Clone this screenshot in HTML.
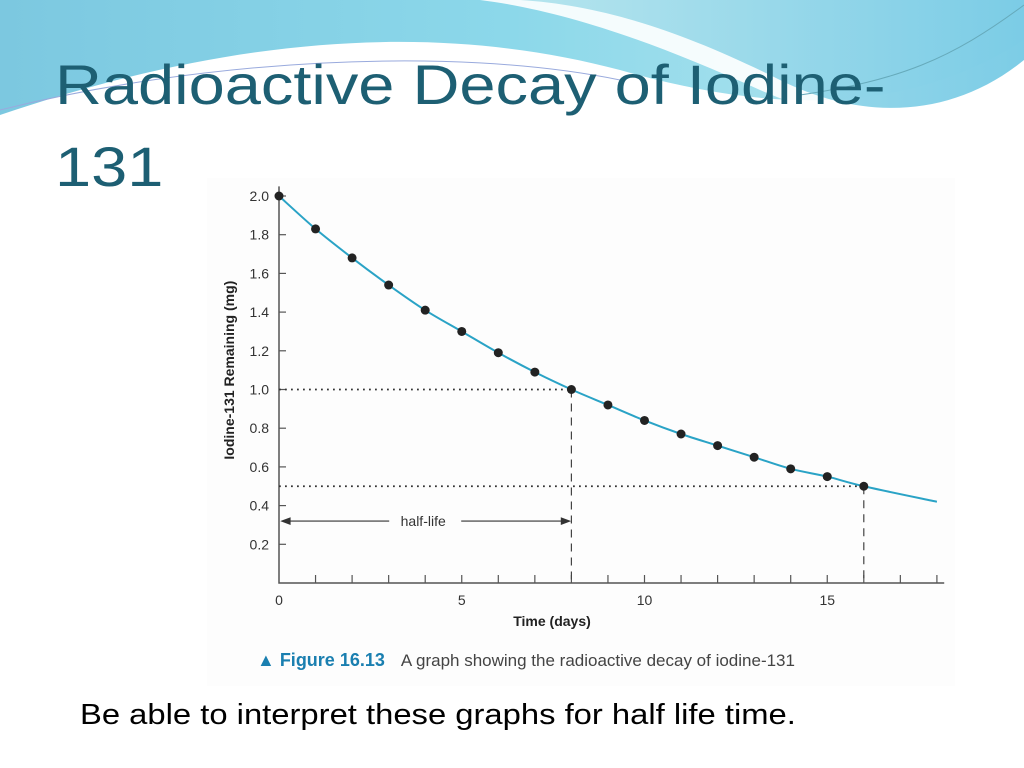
<!DOCTYPE html>
<html><head><meta charset="utf-8"><style>
html,body{margin:0;padding:0;width:1024px;height:768px;overflow:hidden;background:#fff;font-family:"Liberation Sans",sans-serif}
#title{position:absolute;left:55px;top:44px;font-size:56px;line-height:82px;color:#1d5f73;font-family:"Liberation Sans",sans-serif;width:800px;transform:scaleX(1.16);transform-origin:0 0;white-space:nowrap}
#sub{position:absolute;left:80px;top:699px;font-size:29px;color:#000;transform:scaleX(1.13);transform-origin:0 0;white-space:nowrap}
</style></head><body>
<svg width="1024" height="768" style="position:absolute;left:0;top:0">
<defs>
<linearGradient id="g1" x1="0" y1="0" x2="1" y2="0"><stop offset="0" stop-color="#7cc8e0"/><stop offset="0.5" stop-color="#8cd8ea"/><stop offset="1" stop-color="#b8e6ee"/></linearGradient>
<linearGradient id="g2" x1="0" y1="0" x2="1" y2="0"><stop offset="0" stop-color="#a6dfea"/><stop offset="1" stop-color="#5cc0e0"/></linearGradient>
</defs>
<path d="M0 0 H1024 V40 C900 120 760 110 620 70 C450 25 250 30 0 115 Z" fill="url(#g1)"/>
<path d="M480 0 H1024 V70 C940 130 850 130 760 90 C650 40 560 10 480 0 Z" fill="#fff" opacity="0.9"/>
<path d="M520 0 H1024 V60 C950 120 860 120 780 80 C680 30 600 5 520 0 Z" fill="url(#g2)" opacity="0.8"/>
<path d="M0 110 C200 60 450 45 620 80" stroke="#9ad" stroke-width="1" fill="none"/>
<path d="M1024 5 C950 60 900 80 800 95" stroke="#6ab" stroke-width="1" fill="none"/>
<rect x="207" y="178" width="748" height="508" fill="#fdfdfd"/>
</svg>
<div id="title">Radioactive Decay of Iodine-<br>131</div>
<svg id="chart" width="1024" height="768" style="position:absolute;left:0;top:0"></svg>
<div id="sub">Be able to interpret these graphs for half life time.</div>
<script>
const days=[0,1,2,3,4,5,6,7,8,9,10,11,12,13,14,15,16];
const mg=[2.00,1.83,1.68,1.54,1.41,1.30,1.19,1.09,1.00,0.92,0.84,0.77,0.71,0.65,0.59,0.55,0.50];
const curveEnd=[18,0.42];
const yTicks=[0.2,0.4,0.6,0.8,1.0,1.2,1.4,1.6,1.8,2.0];
const xLabels=[0,5,10,15];
const halfLives=[8,16];
const NS='http://www.w3.org/2000/svg';
const svg=document.getElementById('chart');
const X=d=>279+d*36.55, Y=v=>583-v*193.5;
function mk(t,a){const e=document.createElementNS(NS,t);for(const k in a)e.setAttribute(k,a[k]);svg.appendChild(e);return e;}
const ax=mk('path',{d:`M${X(0)} ${Y(2.05)} V${Y(0)} H${X(18.2)}`,stroke:'#555','stroke-width':1.5,fill:'none'});


yTicks.forEach(v=>{
 const t=mk('line',{x1:X(0),x2:X(0)+7,y1:Y(v),y2:Y(v),stroke:'#555','stroke-width':1.2});
 
 
 const l=mk('text',{x:X(0)-10,y:Y(v)+5,'text-anchor':'end','font-size':14,fill:'#333'});l.textContent=v.toFixed(1);
 
 
});
for(let d=1;d<=18;d++){
 const t=mk('line',{x1:X(d),x2:X(d),y1:Y(0),y2:Y(0)-8,stroke:'#555','stroke-width':1.2});
 
 
}
xLabels.forEach(d=>{
 const l=mk('text',{x:X(d),y:Y(0)+22,'text-anchor':'middle','font-size':14,fill:'#333'});l.textContent=d;
 
 
});
const xt=mk('text',{x:552,y:626,'text-anchor':'middle','font-size':14,'font-weight':'bold',fill:'#222'});xt.textContent='Time (days)';


const yt=mk('text',{x:0,y:0,transform:`translate(234 ${Y(1.1)}) rotate(-90)`,'text-anchor':'middle','font-size':14,'font-weight':'bold',fill:'#222'});yt.textContent='Iodine-131 Remaining (mg)';


halfLives.forEach((d,i)=>{
 const v=mg[days.indexOf(d)];
 const h=mk('line',{x1:X(0),x2:X(d),y1:Y(v),y2:Y(v),stroke:'#333','stroke-width':1.8,'stroke-dasharray':'1.8 4.2'});
 
 
 const vl=mk('line',{x1:X(d),x2:X(d),y1:Y(v),y2:Y(0),stroke:'#444','stroke-width':1.2,'stroke-dasharray':'8 6'});
 
 
});
const ay=Y(0.32);
const arr=mk('path',{d:`M${X(0)+3} ${ay} H${X(8)-2} M${X(0)+3} ${ay} l8 -3 v6 z M${X(8)-2} ${ay} l-8 -3 v6 z`,stroke:'#333','stroke-width':1.2,fill:'#333'});


const hb=mk('rect',{x:(X(0)+X(8))/2-36,y:ay-9,width:72,height:18,fill:'#fdfdfd'});


const hl=mk('text',{x:(X(0)+X(8))/2-2,y:ay+5,'text-anchor':'middle','font-size':14,fill:'#333'});hl.textContent='half-life';


let pts=days.map((d,i)=>[X(d),Y(mg[i])]);pts.push([X(curveEnd[0]),Y(curveEnd[1])]);
let dd=`M${pts[0][0]} ${pts[0][1]}`;
for(let i=0;i<pts.length-1;i++){const p0=pts[Math.max(0,i-1)],p1=pts[i],p2=pts[i+1],p3=pts[Math.min(pts.length-1,i+2)];
 dd+=` C${p1[0]+(p2[0]-p0[0])/6} ${p1[1]+(p2[1]-p0[1])/6} ${p2[0]-(p3[0]-p1[0])/6} ${p2[1]-(p3[1]-p1[1])/6} ${p2[0]} ${p2[1]}`;}
const c=mk('path',{d:dd,stroke:'#2aa3c6','stroke-width':2,fill:'none'});


days.forEach((d,i)=>{
 const p=mk('circle',{cx:X(d),cy:Y(mg[i]),r:4.5,fill:'#222'});
 
 
});
const cap=mk('text',{x:257,y:666,'font-size':17,fill:'#444'});
cap.innerHTML='<tspan fill="#1a7fb0" font-weight="bold" font-size="18">▲ Figure 16.13</tspan><tspan dx="16">A graph showing the radioactive decay of iodine-131</tspan>';


</script>
</body></html>
